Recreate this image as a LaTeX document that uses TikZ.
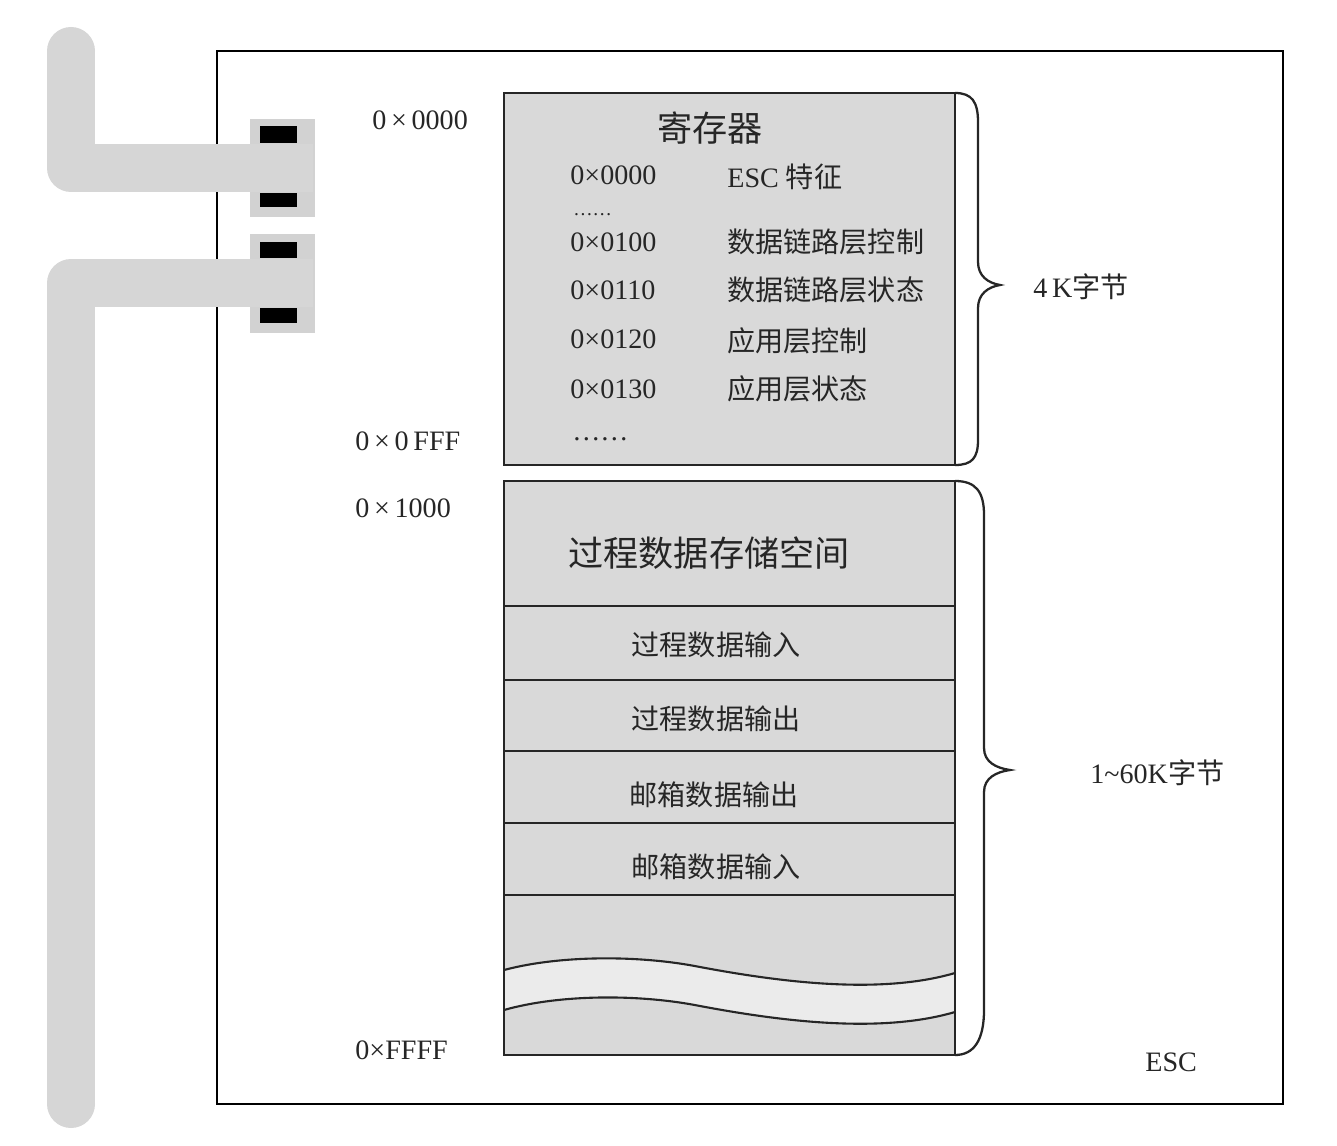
\documentclass[tikz,border=0pt]{standalone}
\usepackage{fontspec}
\setmainfont{Liberation Serif}
\newfontfamily\cjk{Noto Sans CJK SC}
\newcommand{\zhtext}[1]{{\cjk #1}}
\definecolor{boxgray}{HTML}{D9D9D9}
\definecolor{busgray}{HTML}{D6D6D6}
\definecolor{portgray}{HTML}{D2D2D2}
\definecolor{bandgray}{HTML}{EBEBEB}
\definecolor{inkgray}{HTML}{262626}
\begin{document}
\begin{tikzpicture}[x=0.02cm,y=-0.02cm,
  txt/.style={font=\fontsize{16}{18}\selectfont, text=inkgray, inner sep=0pt},
  title/.style={font=\fontsize{20}{24}\selectfont, text=inkgray, inner sep=0pt},
  membox/.style={fill=boxgray, draw=inkgray, line width=1.4pt},
  rowbox/.style={draw=inkgray, line width=1.4pt},
  bus/.style={line width=0.96cm, draw=busgray, line cap=butt, line join=round},
  port/.style={fill=portgray},
  pin/.style={fill=black},
  bracepath/.style={draw=inkgray, line width=1.3pt},
  wave/.style={draw=inkgray, line width=1.2pt}]

\useasboundingbox (0,0) rectangle (1337,1145);

% ESC chip outline
\draw[line width=1.6pt] (217,51) rectangle (1283,1104);

% port housings
\fill[port] (250,119) rectangle (315,217);
\fill[port] (250,234) rectangle (315,333);

% fieldbus lines
\draw[bus] (71,51) -- (71,168) -- (313,168);
\fill[busgray] (71,51) circle (24);
\draw[bus] (313,283) -- (71,283) -- (71,1104);
\fill[busgray] (71,1104) circle (24);

% connector pins
\fill[pin] (260,126) rectangle (297,143);
\fill[pin] (260,193) rectangle (297,207);
\fill[pin] (260,242) rectangle (297,258);
\fill[pin] (260,308) rectangle (297,323);

% register area
\draw[membox] (504,93) rectangle (955,465);
\node[title] (regtitle) at (710,128) {\zhtext{寄存器}};
\node[txt, anchor=west] (a0) at (570,175) {0×0000};
\node[txt, anchor=west] (d0) at (727,177) {ESC \zhtext{特征}};
\node[txt, anchor=base west, font=\fontsize{11}{12}\selectfont] (dots1) at (573,216) {……};
\node[txt, anchor=west] (a1) at (570,242) {0×0100};
\node[txt, anchor=west] (d1) at (727,242) {\zhtext{数据链路层控制}};
\node[txt, anchor=west] (a2) at (570,290) {0×0110};
\node[txt, anchor=west] (d2) at (727,290) {\zhtext{数据链路层状态}};
\node[txt, anchor=west] (a3) at (570,339) {0×0120};
\node[txt, anchor=west] (d3) at (727,341) {\zhtext{应用层控制}};
\node[txt, anchor=west] (a4) at (570,389) {0×0130};
\node[txt, anchor=west] (d4) at (727,389) {\zhtext{应用层状态}};
\node[txt, anchor=base west] (dots2) at (572,440) {……};

% process data area
\draw[membox] (504,481) rectangle (955,1055);
\node[title] (pdtitle) at (709,553) {\zhtext{过程数据存储空间}};
\draw[rowbox] (504,606) rectangle (955,680);
\draw[rowbox] (504,680) rectangle (955,751);
\draw[rowbox] (504,751) rectangle (955,823);
\draw[rowbox] (504,823) rectangle (955,895);
\node[txt] (r1) at (716,645) {\zhtext{过程数据输入}};
\node[txt] (r2) at (716,719) {\zhtext{过程数据输出}};
\node[txt] (r3) at (714,795) {\zhtext{邮箱数据输出}};
\node[txt] (r4) at (716,867) {\zhtext{邮箱数据输入}};

% break band in the remaining space
\fill[bandgray] (504,970) .. controls (560,955) and (640,955) .. (700,967)
  .. controls (780,982) and (880,995) .. (955,973)
  -- (955,1012) .. controls (880,1034) and (780,1021) .. (700,1006)
  .. controls (640,994) and (560,994) .. (504,1010) -- cycle;
\draw[wave] (504,970) .. controls (560,955) and (640,955) .. (700,967)
  .. controls (780,982) and (880,995) .. (955,973);
\draw[wave] (504,1010) .. controls (560,994) and (640,994) .. (700,1006)
  .. controls (780,1021) and (880,1034) .. (955,1012);
\draw[line width=1.4pt, draw=inkgray] (504,895) -- (504,1055) -- (955,1055) -- (955,895);

% address labels
\node[txt, anchor=west] (l0) at (372,120) {0\,×\,0000};
\node[txt, anchor=west] (l1) at (355,441) {0\,×\,0\,FFF};
\node[txt, anchor=west] (l2) at (355,508) {0\,×\,1000};
\node[txt, anchor=west] (l3) at (355,1050) {0×FFFF};

% size braces
\draw[bracepath] (955,93) .. controls (972,93) and (978,102) .. (978,122)
  -- (978,262) .. controls (978,276) and (988,283) .. (1000,285)
  .. controls (988,287) and (978,294) .. (978,308)
  -- (978,440) .. controls (978,458) and (972,465) .. (955,465);
\draw[bracepath] (955,481) .. controls (976,481) and (984,492) .. (984,515)
  -- (984,748) .. controls (984,762) and (996,768) .. (1010,770)
  .. controls (996,772) and (984,778) .. (984,792)
  -- (984,1010) .. controls (984,1040) and (974,1055) .. (955,1055);

\node[txt, anchor=west] (s1) at (1033,287) {4\,K\zhtext{字节}};
\node[txt, anchor=west] (s2) at (1090,773) {1\textasciitilde60K\zhtext{字节}};
\node[txt, anchor=west] (esc) at (1145,1062) {ESC};
\end{tikzpicture}
\end{document}
